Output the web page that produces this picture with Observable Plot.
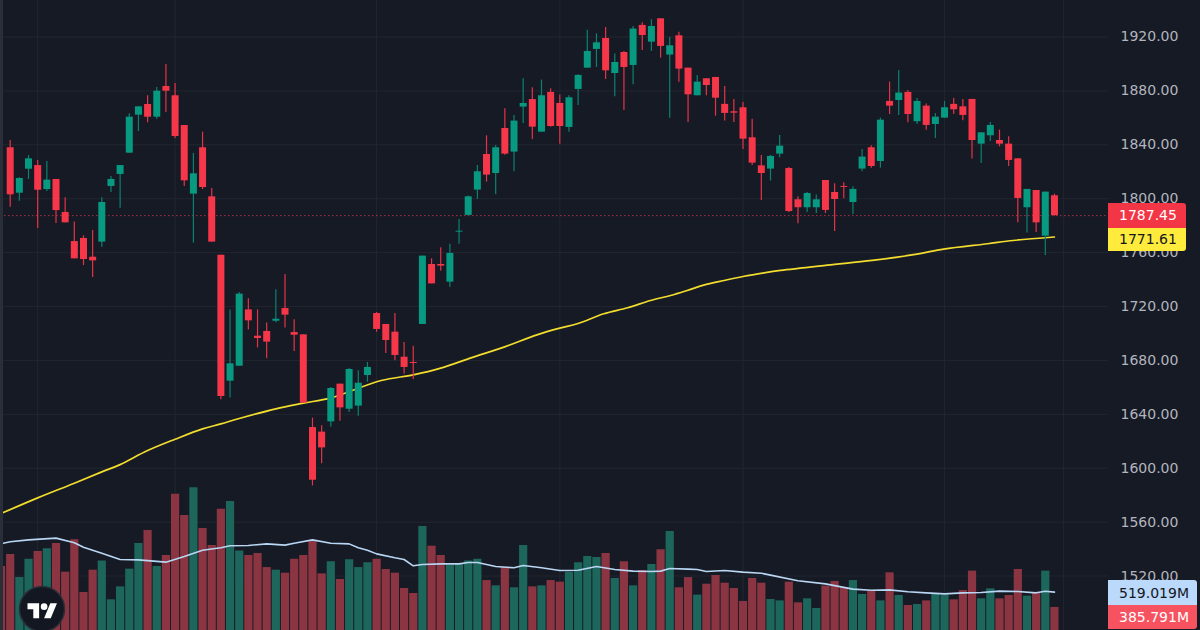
<!DOCTYPE html>
<html><head><meta charset="utf-8">
<script src="https://cdn.jsdelivr.net/npm/d3@7"></script>
<script src="https://cdn.jsdelivr.net/npm/@observablehq/plot@0.6"></script>
<style>
html,body{margin:0;padding:0;background:#161a25;overflow:hidden}
#chart{position:relative;width:1200px;height:630px;overflow:hidden;font-family:"DejaVu Sans",sans-serif}
#chart svg.plot-layer{position:absolute;left:0;top:0}
.tag{position:absolute;font-size:14px;display:flex;align-items:center;box-sizing:border-box;padding-left:11px}
</style></head><body><div id="chart"></div>
<script>
const opens=[1837.8,1804.1,1821.9,1824.6,1806.8,1814.3,1789.8,1768.2,1770.5,1756.6,1767.8,1809.1,1818,1833.8,1862,1869.9,1860.5,1883.3,1876.4,1854.3,1803.4,1837.8,1801.4,1758,1664.6,1675.7,1717.5,1698,1701.5,1709.1,1718.5,1700.7,1699,1630.2,1626.8,1634.4,1662.4,1643.8,1646.1,1668.8,1714.8,1706.7,1701,1682.4,1678.5,1706.7,1751.2,1751.2,1738.1,1775.2,1787.6,1806.4,1832.8,1818.7,1852.1,1834.6,1868,1873.6,1849.4,1878.9,1870.7,1852.9,1881.1,1896.9,1910.8,1918.9,1892.9,1908.5,1898.9,1928.6,1916.2,1933.5,1906.6,1920.9,1896.9,1876.4,1889,1890,1870,1864.5,1867.5,1845.2,1824.4,1822,1833.1,1822.4,1799.2,1793.3,1793.3,1813.5,1804.6,1809.1,1797.2,1822,1837.8,1827.6,1872.2,1872.9,1878.9,1857.1,1868.7,1855.1,1859.8,1870,1868.2,1873.7,1840.5,1846.7,1843.2,1840.5,1829.6,1793.3,1806.1,1772.2,1802.2];
const closes=[1802.9,1815,1829.6,1806.3,1813.8,1791.2,1782.1,1755.4,1754.9,1753.9,1797.2,1814.3,1824.6,1860.5,1868.2,1860.5,1879.8,1879.8,1846.2,1813.3,1818.5,1808.3,1767.8,1653.2,1677.5,1729.2,1709.4,1696.3,1693.6,1710.6,1713.6,1698.7,1648.3,1591.1,1615.1,1659.2,1644.8,1673.3,1663.1,1674.8,1703,1694.8,1683.7,1674.8,1677.7,1757.4,1736.8,1750,1759.4,1775.9,1801.4,1820,1817.5,1837.8,1833.1,1857.6,1870.7,1853.1,1876.4,1853.6,1853.6,1874.9,1891.5,1909.3,1915.7,1894.9,1901.1,1897.4,1925.9,1921.1,1927.8,1913,1913.5,1896.2,1877.1,1886.5,1884,1874.6,1863.3,1863.5,1844.2,1826.4,1818.7,1831.4,1839,1790.5,1793.3,1803.9,1799.2,1791.3,1799.4,1808.4,1806.9,1830.9,1823.9,1858.3,1868.7,1878.4,1862.5,1872.2,1854.4,1860.5,1867.5,1866,1861.8,1843.2,1848.9,1854.4,1840.5,1828.4,1800.2,1806.9,1782.1,1804.9,1787.45];
const highs=[1843.2,1815.5,1832.1,1828.4,1827.6,1814.3,1800.7,1782.8,1772.5,1776.4,1800.7,1816.5,1824.6,1863,1868.2,1876.4,1882.5,1899.6,1885.5,1854.3,1833.6,1849.4,1807.6,1758,1717.5,1730.4,1725.7,1717.5,1707.7,1732.4,1743.8,1710.1,1699,1637.2,1631.5,1659.9,1662.4,1674,1672.3,1678.5,1715.6,1706.7,1714.8,1693.3,1690.6,1757.4,1755.4,1763.6,1766.3,1784.6,1802,1824.7,1846.7,1839.5,1866.7,1861.8,1889,1882.3,1888,1881.6,1876.9,1876.4,1892,1925.1,1922.4,1927.1,1907.3,1909.3,1927.8,1930.5,1932.8,1933.5,1919.7,1923.6,1896.9,1891.5,1889,1890,1883.3,1873.7,1871.4,1859,1832.1,1832.1,1846.9,1823.2,1801.4,1804.6,1802.7,1813.5,1811.1,1811.8,1808.9,1836.6,1839.3,1859.8,1886.5,1895.2,1880.3,1874.4,1870.2,1863.3,1872.2,1874.4,1873.7,1873.7,1848.9,1856.6,1850.9,1846,1829.6,1806.9,1806.1,1804.9,1803.4];
const lows=[1793.7,1798.2,1814.3,1777.9,1805.4,1781.6,1782.1,1755.4,1750.4,1741.5,1764,1804.6,1793,1833.8,1849.9,1856.3,1859,1864,1844.7,1809.1,1767,1806.8,1767.8,1650.8,1652.2,1675.7,1702.5,1689.3,1681.2,1707.9,1704,1686.6,1648.3,1586.9,1603.3,1630.5,1634.9,1641.4,1638.6,1663.9,1701,1685.1,1679.7,1670,1665.8,1706.7,1736.8,1746.2,1734.1,1766.3,1787.4,1799.4,1812.3,1802.9,1832.3,1820,1855.8,1843.9,1849.4,1853.1,1840.5,1849.4,1869.2,1896.9,1897.4,1888.5,1875.6,1865.5,1884.5,1910,1909.3,1904.3,1859.8,1886.5,1856.5,1876.4,1876.4,1861.3,1857.6,1856.6,1836.6,1824.7,1798.7,1813.1,1830.4,1789.8,1781.4,1789.8,1789.1,1789.1,1775.7,1799.9,1788.3,1820,1822.7,1822.7,1862.5,1861.8,1856.3,1855.1,1850.9,1844.7,1859.8,1862.5,1857.8,1829.4,1826.2,1842.5,1838.5,1823.9,1782.1,1774.5,1775,1757.9,1787.1];
// first entry belongs to the bar just off the left edge
const volumes=[742,846.5,646.4,806,872.6,895.8,942,692.8,974,516,710,791,452,565,719,942,1055,742,838,1371,1186,1427,1073,925,1241,1308,878,838,855,733,710,684,806,838,960,678,783,629,800,733,774,806,716,684,551,507,1090,919,838,751,762,791,806,620,574,736,557,925,565,574,620,606,693,774,829,820,855,638,783,574,707,760,887,1047,557,646,493,588,664,597,551,438,638,597,455,443,606,426,461,377,571,612,559,620,499,527,443,687,490,403,412,443,499,493,452,533,702,461,548,461,490,716,484,507,702,385.791];
const maBars=[-0.75,3,7,10,12,15,18,21,23,25,29,32,35,40.5,44,47,50.3,53.9,57.5,60,61.9,64.8,67.4,69.9,72.1,73.9,75.7,77.9,80,82.3,84.1,89.2,94.1,99,101.9,106.7,109.5,114];
const maValues=[1567.1,1578,1588.9,1597.3,1602.7,1613.1,1621.5,1629.2,1632.9,1636.9,1644.1,1648.3,1652.2,1665.1,1669.3,1674.3,1681.9,1689.9,1699,1704,1707.2,1714.6,1719.1,1724.5,1728.2,1731.9,1735.9,1739.3,1742.3,1745,1746.8,1750.7,1754.2,1758.9,1762.6,1766.6,1769,1771.61];
const volMaBars=[-0.75,0,2,5,7,8,10,12,14,17,19,21,23,24,26,28,30,31,33,35,37,38,39,40,42,43,44,45,47,49,50,51,53,55,56,58,60,62,64,66,68,70,71,72,74,75,76,78,80,82,83,86,89,92,94,96,98,100,102,104,106,108,110,112,113,114];
const volMaValues=[945,957,974,989,948,910,858,803,800,780,829,884,905,922,925,939,928,945,974,945,939,905,884,852,818,803,748,760,765,765,777,777,742,731,751,731,707,710,742,716,702,699,702,725,719,716,699,707,693,684,667,618,591,545,536,539,522,513,504,513,516,528,525,513,527,519.019];
const priceTicks=[1520,1560,1600,1640,1680,1720,1760,1800,1840,1880,1920];
const timeGrid=[3,18,40,60,80,102,115];
const lastPrice=1787.45, lastMa=1771.61, lastVolMa="519.019M", lastVol="385.791M";

const UP="#089981",DOWN="#f6374a",WICK_UP="#0b8270",WICK_DOWN="#e63347",GRID="#22262f";
const candles=opens.map((o,i)=>({i,o,c:closes[i],h:highs[i],l:lows[i],up:closes[i]>=o}));
const vols=volumes.map((v,k)=>({i:k-1,v,up:k>0&&candles[k-1].up}));
const ma=maBars.map((i,k)=>({i,v:maValues[k]}));
const volMa=volMaBars.map((i,k)=>({i,v:volMaValues[k]}));
const xs={domain:[-1.059,119.9],range:[0,1108]};
const base={width:1200,height:630,marginTop:0,marginBottom:0,marginLeft:0,marginRight:92,className:"plot-layer",
  style:{background:"transparent",position:"absolute",left:0,top:0},x:{...xs,axis:null}};

const price=Plot.plot({...base,
  y:{domain:[1479.6,1947.09],range:[630,0],axis:null},
  marks:[
    Plot.ruleX(timeGrid,{x:d=>d,stroke:GRID,strokeWidth:1}),
    Plot.ruleY(priceTicks,{y:d=>d,stroke:GRID,strokeWidth:1}),
    Plot.axisY({anchor:"right",ticks:priceTicks,tickSize:0,tickPadding:12,label:null,
      tickFormat:d=>d.toFixed(2),fill:"#b2b5be",fontSize:14,fontFamily:"DejaVu Sans"}),
    Plot.ruleY([lastPrice],{stroke:"#c9344a",strokeWidth:1,strokeDasharray:"1.5,2.5",strokeOpacity:.85}),
    Plot.line(ma,{x:"i",y:"v",stroke:"#f2dc2e",strokeWidth:1.7,curve:"catmull-rom"}),
    Plot.ruleX(candles,{x:"i",y1:"l",y2:"h",stroke:d=>d.up?WICK_UP:WICK_DOWN,strokeWidth:1.2}),
    Plot.ruleX(candles,{x:"i",y1:"o",y2:"c",stroke:d=>d.up?UP:DOWN,strokeWidth:7})
  ]});

const volume=Plot.plot({...base,
  y:{domain:[0,1000],range:[651.3,536.36],axis:null},
  marks:[
    Plot.ruleX(vols,{x:"i",y1:0,y2:"v",stroke:d=>d.up?"#1c665b":"#8a3541",strokeWidth:8.2}),
    Plot.line(volMa,{x:"i",y:"v",stroke:"#b9d6f3",strokeWidth:1.6})
  ]});

const root=document.getElementById("chart");
price.style.background="transparent";volume.style.background="transparent";
root.append(price,volume);
function tag(text,top,h,w,bg,fg,radius){
  const d=document.createElement("div");d.className="tag";d.textContent=text;
  d.style.cssText=`left:1108px;top:${top}px;height:${h}px;width:${w}px;background:${bg};color:${fg};border-radius:${radius}`;
  root.append(d);
}
tag(lastPrice.toFixed(2),203,24.5,78,"#f23645","#ffffff","0 3px 0 0");
tag(lastMa.toFixed(2),227.5,23.5,78,"#ffeb3b","#131722","0 0 3px 0");
tag(lastVolMa,580,25,89,"#bbd9fb","#131722","0 3px 0 0");
tag(lastVol,605,24,89,"#f7525f","#ffffff","0 0 3px 0");
const gutter=document.createElement("div");
gutter.style.cssText="position:absolute;left:0;top:0;width:3px;height:630px;background:#2a2e39";
root.append(gutter);
const logo=document.createElementNS("http://www.w3.org/2000/svg","svg");
logo.setAttribute("width",48);logo.setAttribute("height",48);logo.setAttribute("viewBox","0 0 48 48");
logo.style.cssText="position:absolute;left:18px;top:585px";
logo.innerHTML='<circle cx="24" cy="24" r="22.5" fill="#131722" stroke="#2a2e39" stroke-width="1.5"/><g transform="translate(9.5,15) scale(.83)" fill="#fff"><path d="M14 22H7V11H0V4h14v18zM28 22h-8l7.5-18h8L28 22z"/><circle cx="20" cy="8" r="4"/></g>';
root.append(logo);
</script></body></html>
